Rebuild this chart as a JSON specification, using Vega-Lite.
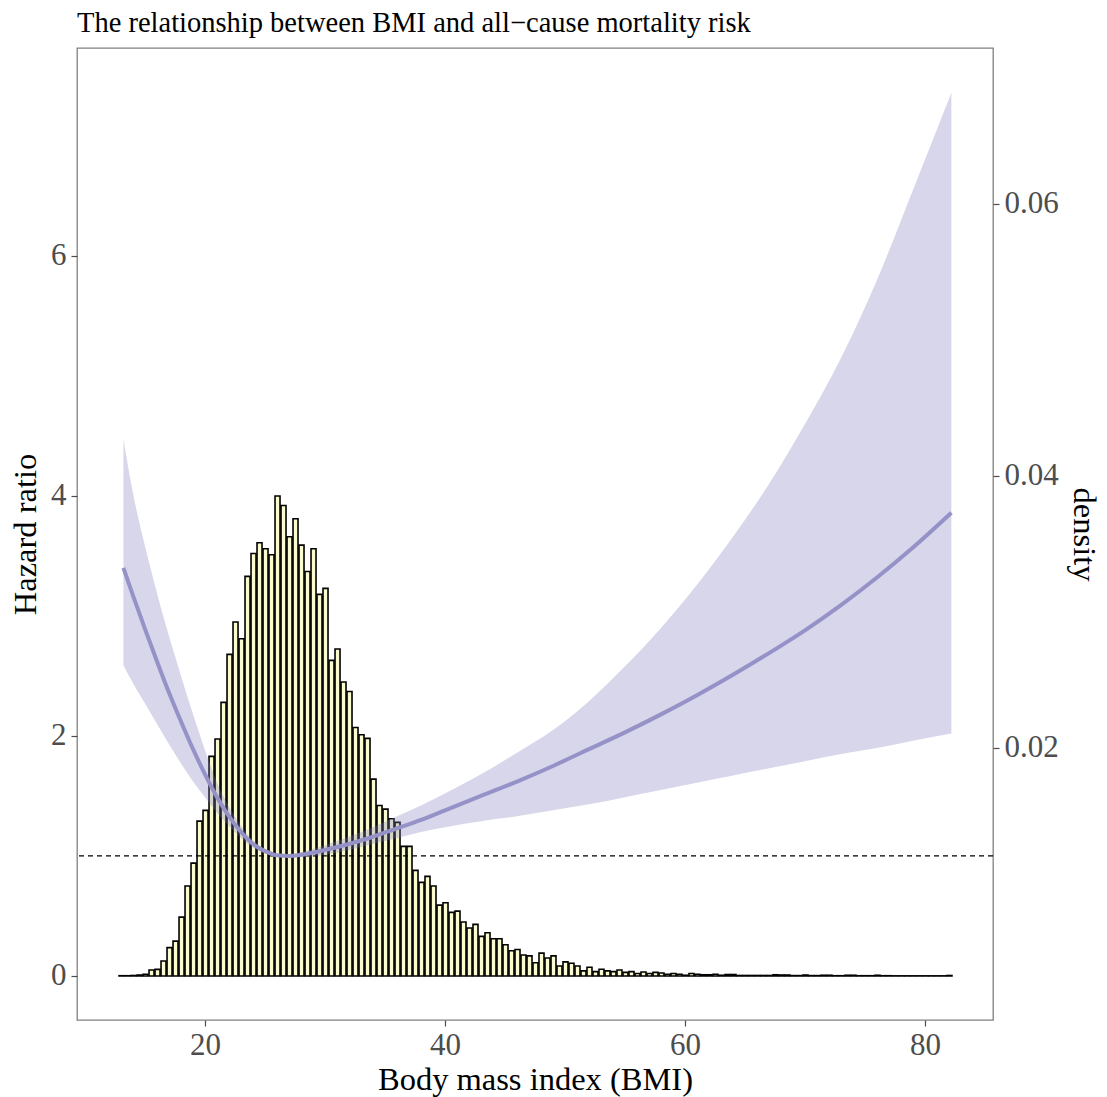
{
  "$schema": "https://vega.github.io/schema/vega-lite/v6.json",
  "width": 916,
  "height": 972,
  "autosize": {"type": "none"},
  "padding": {"left": 77, "top": 48, "right": 114, "bottom": 77},
  "background": "white",
  "config": {
    "view": {"stroke": "#808080", "strokeWidth": 1.3},
    "font": "Liberation Serif",
    "axis": {
      "grid": false,
      "domain": false,
      "tickColor": "#4d4d4d",
      "tickSize": 6,
      "tickWidth": 1.2,
      "labelFont": "Liberation Serif",
      "labelFontSize": 31,
      "labelColor": "#4d4d4d",
      "titleFont": "Liberation Serif",
      "titleFontSize": 32.5,
      "titleFontWeight": "normal",
      "titleColor": "black"
    }
  },
  "title": {
    "text": "The relationship between BMI and all\u2212cause mortality risk",
    "anchor": "start",
    "frame": "group",
    "font": "Liberation Serif",
    "fontSize": 28.5,
    "fontWeight": "normal",
    "color": "black",
    "offset": 11
  },
  "datasets": {
    "hist": [
      {"lo":12.75,"hi":13.25,"h":0.002},{"lo":13.25,"hi":13.75,"h":0.002},{"lo":13.75,"hi":14.25,"h":0.004},{"lo":14.25,"hi":14.75,"h":0.007},
      {"lo":14.75,"hi":15.25,"h":0.014},{"lo":15.25,"hi":15.75,"h":0.05},{"lo":15.75,"hi":16.25,"h":0.055},{"lo":16.25,"hi":16.75,"h":0.125},
      {"lo":16.75,"hi":17.25,"h":0.236},{"lo":17.25,"hi":17.75,"h":0.29},{"lo":17.75,"hi":18.25,"h":0.49},{"lo":18.25,"hi":18.75,"h":0.75},
      {"lo":18.75,"hi":19.25,"h":0.94},{"lo":19.25,"hi":19.75,"h":1.29},{"lo":19.75,"hi":20.25,"h":1.38},{"lo":20.25,"hi":20.75,"h":1.83},
      {"lo":20.75,"hi":21.25,"h":1.975},{"lo":21.25,"hi":21.75,"h":2.28},{"lo":21.75,"hi":22.25,"h":2.68},{"lo":22.25,"hi":22.75,"h":2.95},
      {"lo":22.75,"hi":23.25,"h":2.81},{"lo":23.25,"hi":23.75,"h":3.33},{"lo":23.75,"hi":24.25,"h":3.52},{"lo":24.25,"hi":24.75,"h":3.61},
      {"lo":24.75,"hi":25.25,"h":3.56},{"lo":25.25,"hi":25.75,"h":3.51},{"lo":25.75,"hi":26.25,"h":4.0},{"lo":26.25,"hi":26.75,"h":3.92},
      {"lo":26.75,"hi":27.25,"h":3.66},{"lo":27.25,"hi":27.75,"h":3.81},{"lo":27.75,"hi":28.25,"h":3.59},{"lo":28.25,"hi":28.75,"h":3.37},
      {"lo":28.75,"hi":29.25,"h":3.56},{"lo":29.25,"hi":29.75,"h":3.18},{"lo":29.75,"hi":30.25,"h":3.23},{"lo":30.25,"hi":30.75,"h":2.63},
      {"lo":30.75,"hi":31.25,"h":2.725},{"lo":31.25,"hi":31.75,"h":2.45},{"lo":31.75,"hi":32.25,"h":2.37},{"lo":32.25,"hi":32.75,"h":2.07},
      {"lo":32.75,"hi":33.25,"h":2.01},{"lo":33.25,"hi":33.75,"h":1.98},{"lo":33.75,"hi":34.25,"h":1.64},{"lo":34.25,"hi":34.75,"h":1.42},
      {"lo":34.75,"hi":35.25,"h":1.39},{"lo":35.25,"hi":35.75,"h":1.31},{"lo":35.75,"hi":36.25,"h":1.28},{"lo":36.25,"hi":36.75,"h":1.08},
      {"lo":36.75,"hi":37.25,"h":1.08},{"lo":37.25,"hi":37.75,"h":0.88},{"lo":37.75,"hi":38.25,"h":0.78},{"lo":38.25,"hi":38.75,"h":0.83},
      {"lo":38.75,"hi":39.25,"h":0.75},{"lo":39.25,"hi":39.75,"h":0.59},{"lo":39.75,"hi":40.25,"h":0.61},{"lo":40.25,"hi":40.75,"h":0.53},
      {"lo":40.75,"hi":41.25,"h":0.54},{"lo":41.25,"hi":41.75,"h":0.45},{"lo":41.75,"hi":42.25,"h":0.40},{"lo":42.25,"hi":42.75,"h":0.43},
      {"lo":42.75,"hi":43.25,"h":0.33},{"lo":43.25,"hi":43.75,"h":0.36},{"lo":43.75,"hi":44.25,"h":0.31},{"lo":44.25,"hi":44.75,"h":0.31},
      {"lo":44.75,"hi":45.25,"h":0.26},{"lo":45.25,"hi":45.75,"h":0.21},{"lo":45.75,"hi":46.25,"h":0.22},{"lo":46.25,"hi":46.75,"h":0.175},
      {"lo":46.75,"hi":47.25,"h":0.167},{"lo":47.25,"hi":47.75,"h":0.11},{"lo":47.75,"hi":48.25,"h":0.19},{"lo":48.25,"hi":48.75,"h":0.15},
      {"lo":48.75,"hi":49.25,"h":0.167},{"lo":49.25,"hi":49.75,"h":0.083},{"lo":49.75,"hi":50.25,"h":0.117},{"lo":50.25,"hi":50.75,"h":0.106},
      {"lo":50.75,"hi":51.25,"h":0.083},{"lo":51.25,"hi":51.75,"h":0.042},{"lo":51.75,"hi":52.25,"h":0.072},{"lo":52.25,"hi":52.75,"h":0.036},
      {"lo":52.75,"hi":53.25,"h":0.056},{"lo":53.25,"hi":53.75,"h":0.042},{"lo":53.75,"hi":54.25,"h":0.036},{"lo":54.25,"hi":54.75,"h":0.05},
      {"lo":54.75,"hi":55.25,"h":0.03},{"lo":55.25,"hi":55.75,"h":0.036},{"lo":55.75,"hi":56.25,"h":0.02},{"lo":56.25,"hi":56.75,"h":0.033},
      {"lo":56.75,"hi":57.25,"h":0.02},{"lo":57.25,"hi":57.75,"h":0.03},{"lo":57.75,"hi":58.25,"h":0.025},{"lo":58.25,"hi":58.75,"h":0.014},
      {"lo":58.75,"hi":59.25,"h":0.02},{"lo":59.25,"hi":59.75,"h":0.014},{"lo":59.75,"hi":60.25,"h":0.006},{"lo":60.25,"hi":60.75,"h":0.02},
      {"lo":60.75,"hi":61.25,"h":0.014},{"lo":61.25,"hi":61.75,"h":0.01},{"lo":61.75,"hi":62.25,"h":0.01},{"lo":62.25,"hi":62.75,"h":0.014},
      {"lo":62.75,"hi":63.25,"h":0.006},{"lo":63.25,"hi":63.75,"h":0.012},{"lo":63.75,"hi":64.25,"h":0.012},{"lo":64.25,"hi":64.75,"h":0.004},
      {"lo":64.75,"hi":65.25,"h":0.004},{"lo":65.25,"hi":65.75,"h":0.004},{"lo":65.75,"hi":66.25,"h":0.004},{"lo":66.25,"hi":66.75,"h":0.004},
      {"lo":66.75,"hi":67.25,"h":0.004},{"lo":67.25,"hi":67.75,"h":0.01},{"lo":67.75,"hi":68.25,"h":0.008},{"lo":68.25,"hi":68.75,"h":0.008},
      {"lo":68.75,"hi":69.25,"h":0.003},{"lo":69.25,"hi":69.75,"h":0.003},{"lo":69.75,"hi":70.25,"h":0.008},{"lo":70.25,"hi":70.75,"h":0.003},
      {"lo":70.75,"hi":71.25,"h":0.003},{"lo":71.25,"hi":71.75,"h":0.006},{"lo":71.75,"hi":72.25,"h":0.006},{"lo":72.25,"hi":72.75,"h":0.002},
      {"lo":72.75,"hi":73.25,"h":0.002},{"lo":73.25,"hi":73.75,"h":0.006},{"lo":73.75,"hi":74.25,"h":0.006},{"lo":74.25,"hi":74.75,"h":0.002},
      {"lo":74.75,"hi":75.25,"h":0.002},{"lo":75.25,"hi":75.75,"h":0.002},{"lo":75.75,"hi":76.25,"h":0.006},{"lo":76.25,"hi":76.75,"h":0.002},
      {"lo":76.75,"hi":77.25,"h":0.002},{"lo":77.25,"hi":77.75,"h":0.001},{"lo":77.75,"hi":78.25,"h":0.001},{"lo":78.25,"hi":78.75,"h":0.001},
      {"lo":78.75,"hi":79.25,"h":0.001},{"lo":79.25,"hi":79.75,"h":0.001},{"lo":79.75,"hi":80.25,"h":0.001},{"lo":80.25,"hi":80.75,"h":0.001},
      {"lo":80.75,"hi":81.25,"h":0.001},{"lo":81.25,"hi":81.75,"h":0.001},{"lo":81.75,"hi":82.25,"h":0.004}
    ],
    "curve": [
      {"bmi":13.2,"hr":3.40,"lower":2.59,"upper":4.47},
      {"bmi":14,"hr":3.17,"lower":2.44,"upper":4.02},
      {"bmi":15,"hr":2.89,"lower":2.27,"upper":3.58},
      {"bmi":16,"hr":2.62,"lower":2.10,"upper":3.19},
      {"bmi":17,"hr":2.36,"lower":1.93,"upper":2.83},
      {"bmi":18,"hr":2.12,"lower":1.77,"upper":2.50},
      {"bmi":19,"hr":1.89,"lower":1.62,"upper":2.18},
      {"bmi":20,"hr":1.68,"lower":1.49,"upper":1.88},
      {"bmi":21,"hr":1.49,"lower":1.36,"upper":1.61},
      {"bmi":22,"hr":1.33,"lower":1.25,"upper":1.41},
      {"bmi":23,"hr":1.20,"lower":1.15,"upper":1.25},
      {"bmi":24,"hr":1.10,"lower":1.07,"upper":1.13},
      {"bmi":25,"hr":1.04,"lower":1.02,"upper":1.06},
      {"bmi":26,"hr":1.005,"lower":0.995,"upper":1.015},
      {"bmi":27,"hr":1.0,"lower":0.99,"upper":1.005},
      {"bmi":28,"hr":1.01,"lower":0.99,"upper":1.03},
      {"bmi":30,"hr":1.05,"lower":1.01,"upper":1.09},
      {"bmi":32,"hr":1.10,"lower":1.05,"upper":1.16},
      {"bmi":34,"hr":1.16,"lower":1.10,"upper":1.24},
      {"bmi":36,"hr":1.23,"lower":1.15,"upper":1.33},
      {"bmi":38,"hr":1.30,"lower":1.20,"upper":1.42},
      {"bmi":40,"hr":1.38,"lower":1.24,"upper":1.52},
      {"bmi":43,"hr":1.50,"lower":1.29,"upper":1.68},
      {"bmi":46,"hr":1.62,"lower":1.33,"upper":1.86},
      {"bmi":49,"hr":1.75,"lower":1.38,"upper":2.05},
      {"bmi":52,"hr":1.89,"lower":1.43,"upper":2.29},
      {"bmi":55,"hr":2.03,"lower":1.49,"upper":2.58},
      {"bmi":58,"hr":2.18,"lower":1.55,"upper":2.90},
      {"bmi":61,"hr":2.34,"lower":1.61,"upper":3.26},
      {"bmi":64,"hr":2.51,"lower":1.67,"upper":3.66},
      {"bmi":67,"hr":2.69,"lower":1.73,"upper":4.10},
      {"bmi":70,"hr":2.88,"lower":1.79,"upper":4.60},
      {"bmi":73,"hr":3.09,"lower":1.85,"upper":5.15},
      {"bmi":76,"hr":3.32,"lower":1.90,"upper":5.80},
      {"bmi":79,"hr":3.57,"lower":1.96,"upper":6.55},
      {"bmi":82.2,"hr":3.86,"lower":2.02,"upper":7.36}
    ],
    "dens": [{"d": 0}, {"d": 0.07}]
  },
  "layer": [
    {
      "layer": [
        {
          "data": {"name": "hist"},
          "mark": {"type": "bar", "fill": "#FBFBD0", "stroke": "black", "strokeWidth": 1.6},
          "encoding": {
            "x": {"field": "lo", "type": "quantitative", "bin": {"binned": true, "step": 0.5},
                  "scale": {"domain": [9.33, 85.67], "nice": false, "zero": false},
                  "axis": {"values": [20, 40, 60, 80], "format": "d", "title": "Body mass index (BMI)", "labelPadding": 4, "titlePadding": 3}},
            "x2": {"field": "hi"},
            "y": {"field": "h", "type": "quantitative",
                  "scale": {"domain": [-0.367, 7.733], "nice": false, "zero": false},
                  "axis": {"values": [0, 2, 4, 6], "format": "d", "title": "Hazard ratio", "labelPadding": 5, "titlePadding": 8}},
            "y2": {"datum": 0}
          }
        },
        {
          "data": {"values": [{"ref": 1}]},
          "mark": {"type": "rule", "color": "black", "strokeWidth": 1.3, "strokeDash": [5, 4]},
          "encoding": {"y": {"field": "ref", "type": "quantitative"}}
        },
        {
          "data": {"name": "curve"},
          "mark": {"type": "area", "color": "#7B78B8", "opacity": 0.3, "interpolate": "monotone"},
          "encoding": {
            "x": {"field": "bmi", "type": "quantitative"},
            "y": {"field": "lower", "type": "quantitative"},
            "y2": {"field": "upper"}
          }
        },
        {
          "data": {"name": "curve"},
          "mark": {"type": "line", "color": "#9592C8", "strokeWidth": 4, "interpolate": "monotone"},
          "encoding": {
            "x": {"field": "bmi", "type": "quantitative"},
            "y": {"field": "hr", "type": "quantitative"}
          }
        }
      ]
    },
    {
      "data": {"name": "dens"},
      "mark": {"type": "point", "opacity": 0},
      "encoding": {
        "y": {"field": "d", "type": "quantitative",
              "scale": {"domain": [0, 0.07147], "nice": false, "zero": false},
              "axis": {"orient": "right", "values": [0.02, 0.04, 0.06], "format": ".2f", "title": "density", "labelPadding": 5, "titlePadding": 8}}
      }
    }
  ],
  "resolve": {"scale": {"y": "independent"}, "axis": {"y": "independent"}}
}
